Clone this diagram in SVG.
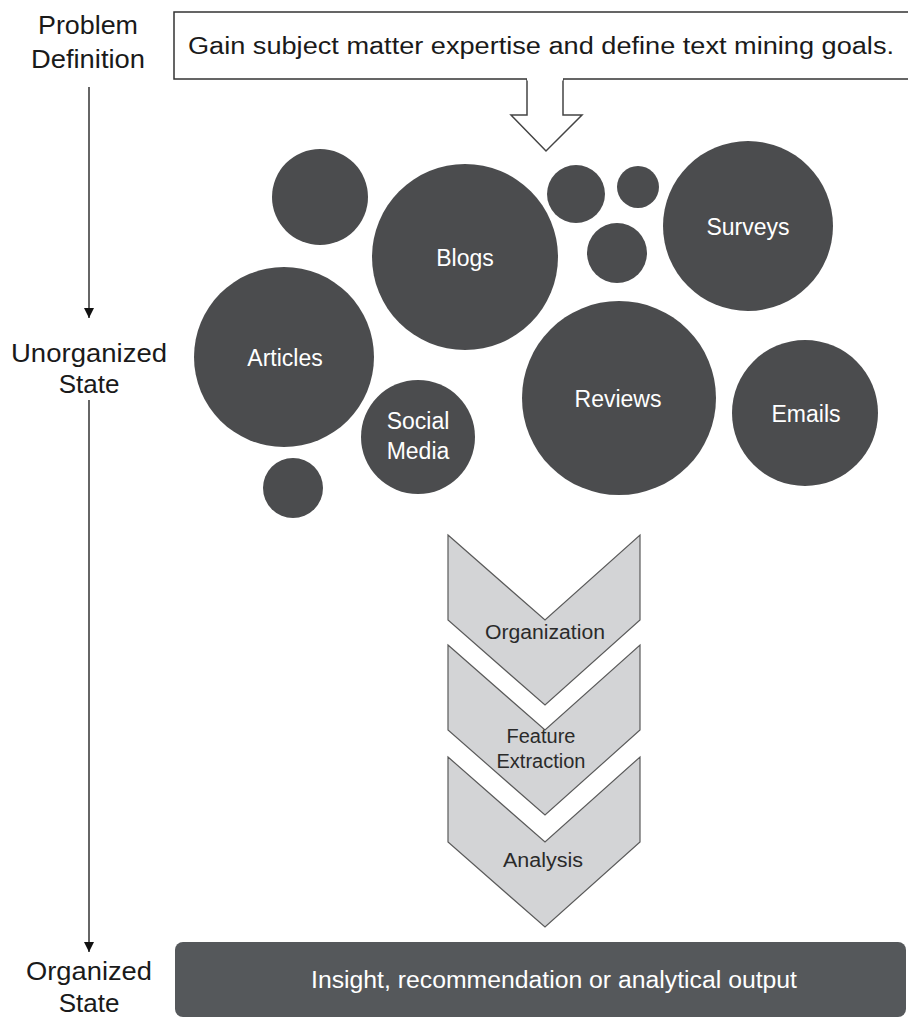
<svg xmlns="http://www.w3.org/2000/svg" width="908" height="1019" viewBox="0 0 908 1019">
<defs>
<style>
.lbl{font-family:"Liberation Sans",Arial,sans-serif;font-size:26px;fill:#1a1a1a;text-anchor:middle}
.ct{font-family:"Liberation Sans",Arial,sans-serif;font-size:23px;fill:#ffffff;text-anchor:middle}
.chev{fill:#d3d4d6;stroke:#5a5a5a;stroke-width:1.2}
.cht{font-family:"Liberation Sans",Arial,sans-serif;font-size:20px;fill:#2a2a2a;text-anchor:middle}
.bub{fill:#4b4c4e}
.axis{stroke:#333;stroke-width:1.5;fill:none}
</style>
<marker id="ah" viewBox="0 0 10 10" refX="10" refY="5" markerWidth="10" markerHeight="10" markerUnits="userSpaceOnUse" orient="auto">
<path d="M0,0 L10,5 L0,10 Z" fill="#111"/>
</marker>
</defs>
<rect width="908" height="1019" fill="#ffffff"/>

<g id="labels">
<text class="lbl" x="88" y="34" textLength="100" lengthAdjust="spacingAndGlyphs">Problem</text>
<text class="lbl" x="88" y="68" textLength="114" lengthAdjust="spacingAndGlyphs">Definition</text>
<text class="lbl" x="89" y="362" textLength="156" lengthAdjust="spacingAndGlyphs">Unorganized</text>
<text class="lbl" x="89" y="393">State</text>
<text class="lbl" x="89" y="980" textLength="126" lengthAdjust="spacingAndGlyphs">Organized</text>
<text class="lbl" x="89" y="1012">State</text>
</g>

<g id="connectors">
<line class="axis" x1="89" y1="87" x2="89" y2="318" marker-end="url(#ah)"/>
<line class="axis" x1="89" y1="400" x2="89" y2="952" marker-end="url(#ah)"/>
<path d="M527,79 L527,115 L511,115 L546,151 L582,115 L563,115 L563,79" fill="#ffffff" stroke="#444" stroke-width="1.5"/>
</g>

<g id="problem">
<rect x="174" y="12" width="740" height="67" fill="#ffffff" stroke="#333" stroke-width="1.5"/>
<line x1="527" y1="79" x2="563" y2="79" stroke="#ffffff" stroke-width="3"/>
<text x="541" y="54" font-family="'Liberation Sans',Arial,sans-serif" font-size="23" fill="#1a1a1a" text-anchor="middle" textLength="706" lengthAdjust="spacingAndGlyphs">Gain subject matter expertise and define text mining goals.</text>
</g>

<g id="sources">
<circle class="bub" cx="320" cy="197" r="48"/>
<circle class="bub" cx="576" cy="194" r="29"/>
<circle class="bub" cx="638" cy="187" r="21"/>
<circle class="bub" cx="617" cy="253" r="30"/>
<circle class="bub" cx="293" cy="488" r="30"/>
<g id="blogs"><circle class="bub" cx="465" cy="257" r="93"/><text class="ct" x="465" y="266">Blogs</text></g>
<g id="surveys"><circle class="bub" cx="748" cy="226" r="85"/><text class="ct" x="748" y="235">Surveys</text></g>
<g id="articles"><circle class="bub" cx="284" cy="357" r="90"/><text class="ct" x="285" y="366">Articles</text></g>
<g id="social"><circle class="bub" cx="418" cy="437" r="57"/><text class="ct" x="418" y="429">Social</text><text class="ct" x="418" y="459">Media</text></g>
<g id="reviews"><circle class="bub" cx="619" cy="398" r="97"/><text class="ct" x="618" y="407">Reviews</text></g>
<g id="emails"><circle class="bub" cx="805" cy="413" r="73"/><text class="ct" x="806" y="422">Emails</text></g>
</g>

<g id="organization">
<path class="chev" d="M448,535 L545,620 L640,535 L640,620 L545,705 L448,620 Z"/>
<text class="cht" x="545" y="639" textLength="120" lengthAdjust="spacingAndGlyphs">Organization</text>
</g>
<g id="feature">
<path class="chev" d="M448,645 L545,730 L640,645 L640,730 L545,815 L448,730 Z"/>
</g>
<g id="analysis">
<path class="chev" d="M448,757 L545,842 L640,757 L640,842 L545,927 L448,842 Z"/>
<text class="cht" x="543" y="867" textLength="80" lengthAdjust="spacingAndGlyphs">Analysis</text>
</g>
<g id="feature-label">
<text class="cht" x="541" y="743">Feature</text>
<text class="cht" x="541" y="768">Extraction</text>
</g>

<g id="output">
<rect x="175" y="942" width="731" height="75" rx="8" fill="#55585b"/>
<text x="554" y="988" font-family="'Liberation Sans',Arial,sans-serif" font-size="23" fill="#ffffff" text-anchor="middle" textLength="486" lengthAdjust="spacingAndGlyphs">Insight, recommendation or analytical output</text>
</g>
</svg>
